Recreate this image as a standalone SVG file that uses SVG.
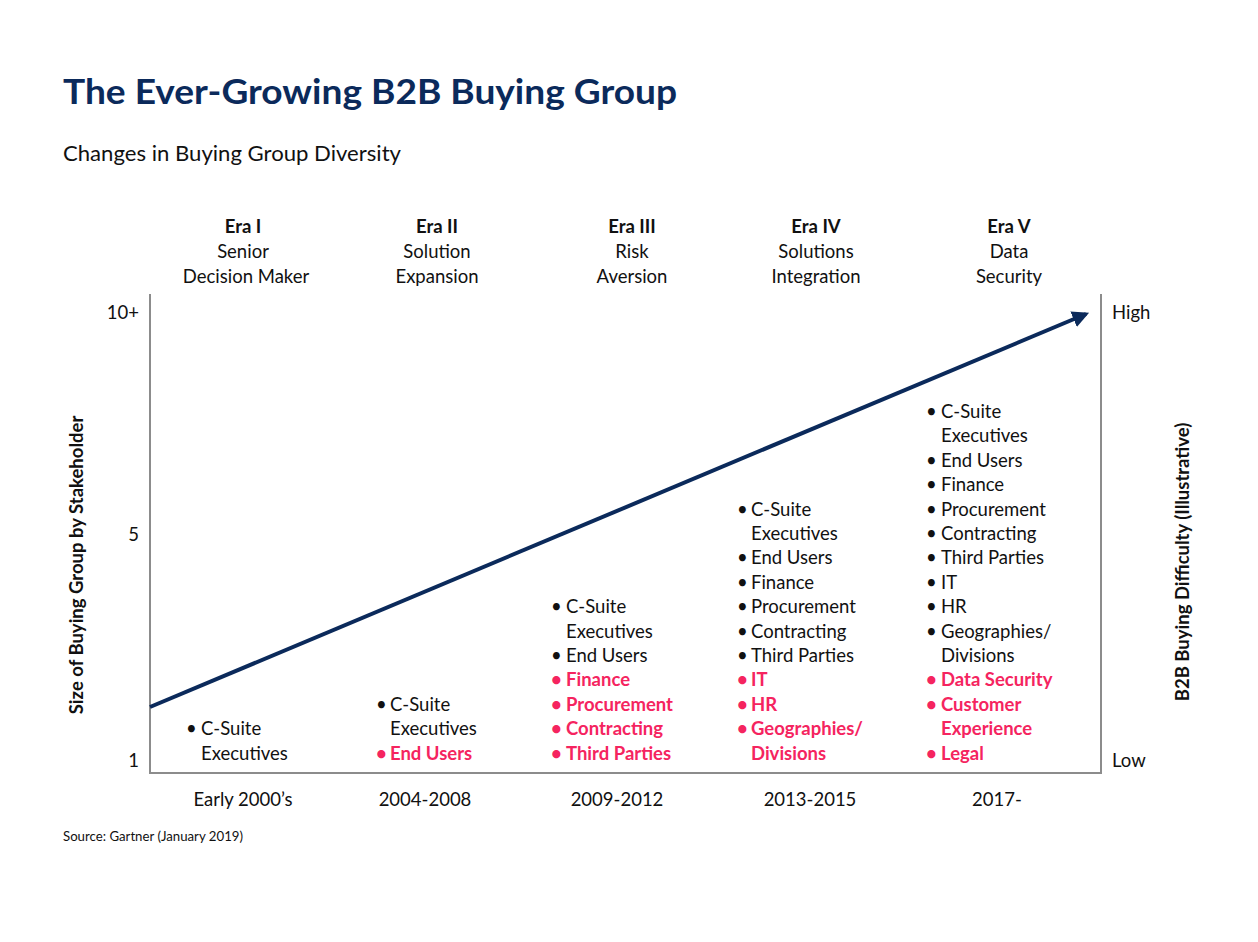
<svg xmlns="http://www.w3.org/2000/svg" width="1258" height="942" viewBox="0 0 1258 942">
<style>
text{font-family:Lato,"Liberation Sans",sans-serif;fill:#111;}
.t{font-size:18.5px;}
.c{text-anchor:middle;}
.b{font-weight:bold;}
.p{fill:#f5245f;font-weight:bold;}
.axis{stroke:#8c8c8c;stroke-width:2;fill:none;}
</style>
<defs>
<marker id="ah" viewBox="0 0 10 10" refX="8" refY="5" markerWidth="4.2" markerHeight="4.2" orient="auto" markerUnits="strokeWidth">
<path d="M0,0 L10,5 L0,10 z" fill="#0b2a5b"/>
</marker>
</defs>
<rect width="1258" height="942" fill="#fff"/>
<g id="title">
<text x="63" y="104" font-size="35" font-weight="bold" style="fill:#0b2a5b" textLength="614" lengthAdjust="spacingAndGlyphs">The Ever-Growing B2B Buying Group</text>
<text x="63" y="161" font-size="20.5" textLength="338" lengthAdjust="spacingAndGlyphs">Changes in Buying Group Diversity</text>
</g>
<g id="axes">
<path class="axis" d="M150,294 V773 H1101 V294"/>
<text class="t" x="139" y="319" text-anchor="end">10+</text>
<text class="t" x="139" y="541" text-anchor="end">5</text>
<text class="t" x="139" y="767" text-anchor="end">1</text>
<text class="t" x="1112" y="319">High</text>
<text class="t" x="1112" y="767">Low</text>
<text class="t b c" transform="translate(83,565) rotate(-90)" font-size="17.5">Size of Buying Group by Stakeholder</text>
<text class="t b c" transform="translate(1189,562) rotate(-90)" font-size="17.5">B2B Buying Difficulty (Illustrative)</text>
</g>
<g id="connectors">
<line x1="150" y1="707" x2="1086" y2="314" stroke="#0b2a5b" stroke-width="4" marker-end="url(#ah)"/>
</g>
<g id="era1" class="t">
<text class="t b c" x="243" y="233">Era I</text>
<text class="t c" x="243" y="258">Senior</text>
<text class="t c" x="246" y="283">Decision Maker</text>
<text class="t" x="186" y="735">•</text><text class="t" x="201" y="735">C-Suite</text>
<text class="t" x="201" y="760">Executives</text>
<text class="t c" x="243" y="806">Early 2000’s</text>
</g>
<g id="era2">
<text class="t b c" x="437" y="233">Era II</text>
<text class="t c" x="437" y="258">Solution</text>
<text class="t c" x="437" y="283">Expansion</text>
<text class="t" x="376" y="711">•</text><text class="t" x="390" y="711">C-Suite</text>
<text class="t" x="390" y="735">Executives</text>
<text class="t p" x="376" y="760">•</text><text class="t p" x="390" y="760">End Users</text>
<text class="t c" x="425" y="806">2004-2008</text>
</g>
<g id="era3">
<text class="t b c" x="632" y="233">Era III</text>
<text class="t c" x="632" y="258">Risk</text>
<text class="t c" x="632" y="283">Aversion</text>
<text class="t" x="551" y="613">•</text><text class="t" x="566" y="613">C-Suite</text>
<text class="t" x="566" y="638">Executives</text>
<text class="t" x="551" y="662">•</text><text class="t" x="566" y="662">End Users</text>
<text class="t p" x="551" y="686">•</text><text class="t p" x="566" y="686">Finance</text>
<text class="t p" x="551" y="711">•</text><text class="t p" x="566" y="711">Procurement</text>
<text class="t p" x="551" y="735">•</text><text class="t p" x="566" y="735">Contracting</text>
<text class="t p" x="551" y="760">•</text><text class="t p" x="566" y="760">Third Parties</text>
<text class="t c" x="617" y="806">2009-2012</text>
</g>
<g id="era4">
<text class="t b c" x="816" y="233">Era IV</text>
<text class="t c" x="816" y="258">Solutions</text>
<text class="t c" x="816" y="283">Integration</text>
<text class="t" x="737" y="516">•</text><text class="t" x="751" y="516">C-Suite</text>
<text class="t" x="751" y="540">Executives</text>
<text class="t" x="737" y="564">•</text><text class="t" x="751" y="564">End Users</text>
<text class="t" x="737" y="589">•</text><text class="t" x="751" y="589">Finance</text>
<text class="t" x="737" y="613">•</text><text class="t" x="751" y="613">Procurement</text>
<text class="t" x="737" y="638">•</text><text class="t" x="751" y="638">Contracting</text>
<text class="t" x="737" y="662">•</text><text class="t" x="751" y="662">Third Parties</text>
<text class="t p" x="737" y="686">•</text><text class="t p" x="751" y="686">IT</text>
<text class="t p" x="737" y="711">•</text><text class="t p" x="751" y="711">HR</text>
<text class="t p" x="737" y="735">•</text><text class="t p" x="751" y="735">Geographies/</text>
<text class="t p" x="751" y="760">Divisions</text>
<text class="t c" x="810" y="806">2013-2015</text>
</g>
<g id="era5">
<text class="t b c" x="1009" y="233">Era V</text>
<text class="t c" x="1009" y="258">Data</text>
<text class="t c" x="1009" y="283">Security</text>
<text class="t" x="926" y="418">•</text><text class="t" x="941" y="418">C-Suite</text>
<text class="t" x="941" y="442">Executives</text>
<text class="t" x="926" y="467">•</text><text class="t" x="941" y="467">End Users</text>
<text class="t" x="926" y="491">•</text><text class="t" x="941" y="491">Finance</text>
<text class="t" x="926" y="516">•</text><text class="t" x="941" y="516">Procurement</text>
<text class="t" x="926" y="540">•</text><text class="t" x="941" y="540">Contracting</text>
<text class="t" x="926" y="564">•</text><text class="t" x="941" y="564">Third Parties</text>
<text class="t" x="926" y="589">•</text><text class="t" x="941" y="589">IT</text>
<text class="t" x="926" y="613">•</text><text class="t" x="941" y="613">HR</text>
<text class="t" x="926" y="638">•</text><text class="t" x="941" y="638">Geographies/</text>
<text class="t" x="941" y="662">Divisions</text>
<text class="t p" x="926" y="686">•</text><text class="t p" x="941" y="686">Data Security</text>
<text class="t p" x="926" y="711">•</text><text class="t p" x="941" y="711">Customer</text>
<text class="t p" x="941" y="735">Experience</text>
<text class="t p" x="926" y="760">•</text><text class="t p" x="941" y="760">Legal</text>
<text class="t c" x="997" y="806">2017-</text>
</g>
<g id="source">
<text x="63" y="841" font-size="13" textLength="180" lengthAdjust="spacingAndGlyphs">Source: Gartner (January 2019)</text>
</g>
</svg>
